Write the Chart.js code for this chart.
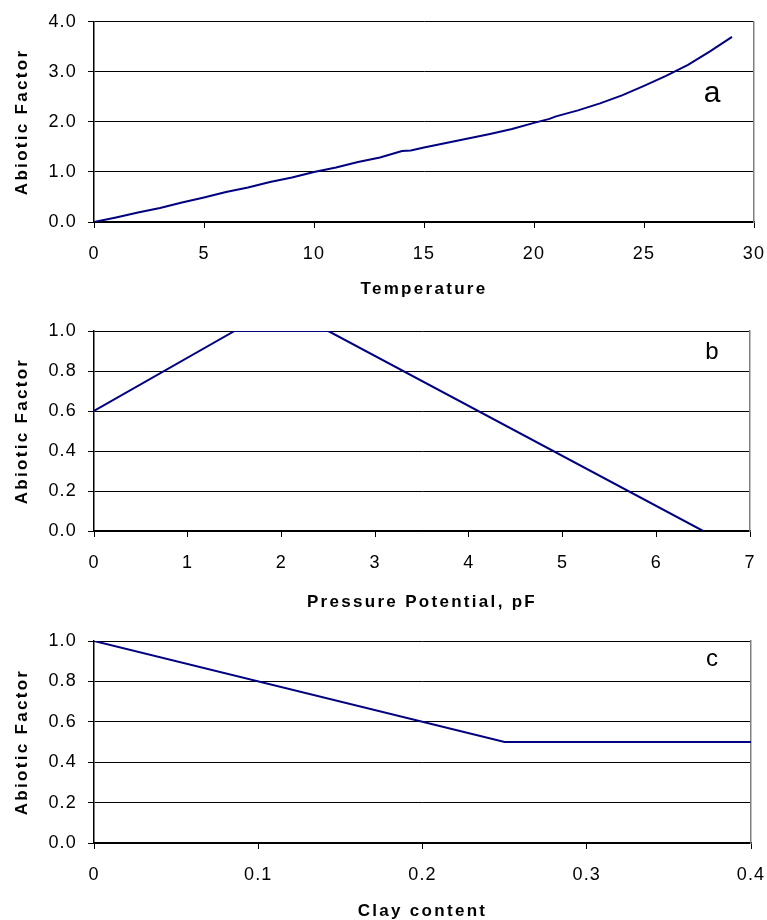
<!DOCTYPE html>
<html>
<head>
<meta charset="utf-8">
<script src="https://cdn.jsdelivr.net/npm/chart.js@4.4.1/dist/chart.umd.min.js"></script>
<style>
  body { margin: 0; background: #fff; }
  #wrap { position: relative; width: 767px; height: 920px; }
  .panel { position: absolute; left: 0; width: 767px; }
</style>
</head>
<body>
<div id="wrap">
  <div class="panel" style="top:0;height:305px"><canvas id="chartA"></canvas></div>
  <div class="panel" style="top:305px;height:305px"><canvas id="chartB"></canvas></div>
  <div class="panel" style="top:610px;height:310px"><canvas id="chartC"></canvas></div>
</div>
<script>
// ====== data ======
// a: temperature response
const tempX = [0, 1, 2, 3, 4, 5, 6, 7, 8, 9, 10, 11, 12, 13, 14, 14.4, 15, 16, 17, 18, 19, 20, 20.7, 21, 22, 23, 24, 25, 26, 27, 28, 29];
const tempY = [0, 0.09, 0.19, 0.28, 0.39, 0.49, 0.6, 0.69, 0.8, 0.89, 1.0, 1.09, 1.2, 1.29, 1.42, 1.43, 1.49, 1.58, 1.67, 1.76, 1.86, 1.98, 2.06, 2.11, 2.23, 2.37, 2.53, 2.72, 2.92, 3.14, 3.41, 3.7];
// b: pressure potential (pF)
const pfX = [0, 1.5, 2.5, 6.5];
const pfY = [0.6, 1.0, 1.0, 0];
// c: clay content
const clayX = [0, 0.25, 0.4];
const clayY = [1.0, 0.5, 0.5];

const panelLetters = ['a', 'b', 'c'];
const xTitles = ['Temperature', 'Pressure Potential, pF', 'Clay content'];
const yTitle = 'Abiotic Factor';

const FONT = "'Liberation Sans', Arial, sans-serif";
const LINE_COLOR = '#000080';

// titles get wide letter spacing, tick labels a little
const spacingPlugin = {
    id: 'spacing',
    beforeDraw(chart) { chart.ctx.letterSpacing = '2.3px'; },
    beforeDatasetsDraw(chart) { chart.ctx.letterSpacing = '1.2px'; }
};

// panel letter in the upper right
const panelLabelPlugin = {
    id: 'panelLabel',
    afterDraw(chart, args, opts) {
        const ctx = chart.ctx;
        const area = chart.chartArea;
        ctx.save();
        ctx.letterSpacing = '0px';
        ctx.font = opts.size + 'px ' + FONT;
        ctx.fillStyle = '#000';
        ctx.textAlign = 'center';
        ctx.textBaseline = 'middle';
        ctx.fillText(opts.text, area.right + opts.dx, area.top + opts.dy);
        ctx.restore();
    }
};

function makeChart(id, xs, ys, cfg) {
    const points = xs.map((x, i) => ({ x: x, y: ys[i] }));
    return new Chart(document.getElementById(id), {
        type: 'line',
        data: {
            datasets: [{
                data: points,
                borderColor: LINE_COLOR,
                borderWidth: 2,
                pointRadius: 0,
                tension: 0,
                fill: false
            }]
        },
        options: {
            responsive: true,
            maintainAspectRatio: false,
            animation: false,
            layout: { padding: { top: cfg.padTop, right: cfg.padRight, left: 0, bottom: 0 } },
            plugins: {
                legend: { display: false },
                tooltip: { enabled: false },
                panelLabel: cfg.label
            },
            scales: {
                x: {
                    type: 'linear',
                    min: cfg.xMin, max: cfg.xMax,
                    afterFit(s) {
                        s.height = cfg.xHeight;
                        // keep the plot edges where the layout padding puts them
                        s.paddingLeft = 0;
                        s.paddingRight = 0;
                    },
                    ticks: {
                        stepSize: cfg.xStep,
                        color: '#000',
                        padding: 15,
                        maxRotation: 0,
                        z: 1,
                        font: { family: FONT, size: 18 }
                    },
                    grid: { drawOnChartArea: false, drawTicks: true, tickLength: 6, color: '#000' },
                    border: { color: '#000', width: 1.5 },
                    title: {
                        display: true,
                        text: cfg.xTitle,
                        color: '#000',
                        padding: { top: 0, bottom: cfg.titlePad },
                        font: { family: FONT, size: 17, weight: 'bold' }
                    }
                },
                y: {
                    type: 'linear',
                    min: 0, max: cfg.yMax,
                    afterFit(s) { s.width = 94; },
                    ticks: {
                        stepSize: cfg.yStep,
                        color: '#000',
                        padding: 11,
                        z: 1,
                        font: { family: FONT, size: 18 },
                        callback: v => v.toFixed(1)
                    },
                    grid: { color: '#000', lineWidth: 1, tickLength: 6 },
                    border: { color: '#000', width: 1.5 },
                    title: {
                        display: true,
                        text: yTitle,
                        color: '#000',
                        padding: { top: 12, bottom: 0 },
                        font: { family: FONT, size: 17, weight: 'bold' }
                    }
                },
                // grey frame line on the right side
                y2: {
                    type: 'linear',
                    position: 'right',
                    min: 0, max: 1,
                    afterFit(s) { s.width = 0; },
                    ticks: { display: false },
                    grid: { drawOnChartArea: false, drawTicks: false },
                    border: { color: '#808080', width: 1.5 }
                }
            }
        },
        plugins: [spacingPlugin, panelLabelPlugin]
    });
}

makeChart('chartA', tempX, tempY, {
    padTop: 20, padRight: 13, xHeight: 83, titlePad: 5,
    xMin: 0, xMax: 30, xStep: 5, yMax: 4, yStep: 1,
    xTitle: xTitles[0],
    label: { text: panelLetters[0], dx: -42, dy: 72, size: 30 }
});

makeChart('chartB', pfX, pfY, {
    padTop: 26, padRight: 17, xHeight: 79, titlePad: -3,
    xMin: 0, xMax: 7, xStep: 1, yMax: 1, yStep: 0.2,
    xTitle: xTitles[1],
    label: { text: panelLetters[1], dx: -38, dy: 21, size: 24 }
});

makeChart('chartC', clayX, clayY, {
    padTop: 31, padRight: 16, xHeight: 77, titlePad: -2,
    xMin: 0, xMax: 0.4, xStep: 0.1, yMax: 1, yStep: 0.2,
    xTitle: xTitles[2],
    label: { text: panelLetters[2], dx: -39, dy: 18, size: 24 }
});
</script>
</body>
</html>
